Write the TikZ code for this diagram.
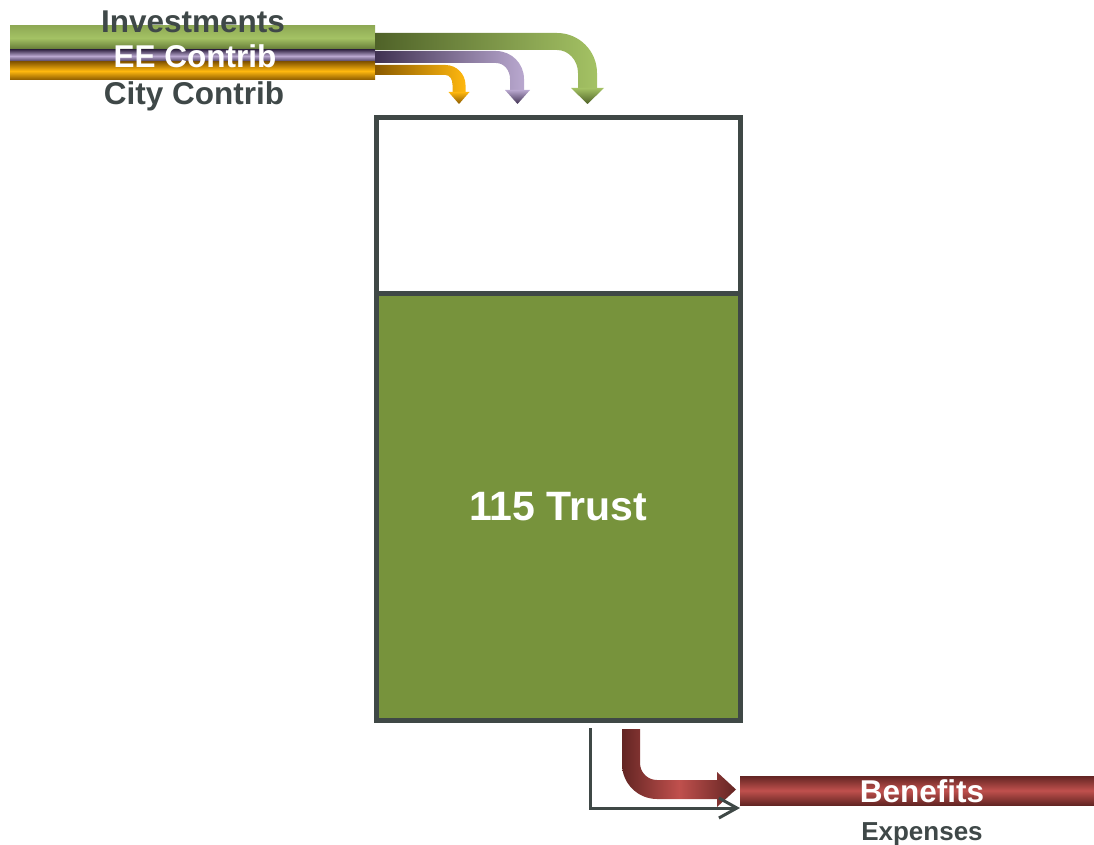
\documentclass[tikz,border=0pt]{standalone}
\usepackage{fontspec}
\setmainfont{Liberation Sans}
\usetikzlibrary{arrows.meta}

\definecolor{txtgray}{HTML}{3F4848}
\definecolor{boxgray}{HTML}{3F4846}
\definecolor{trustgreen}{HTML}{77933C}
\definecolor{gL}{HTML}{A4C264}
\definecolor{gD}{HTML}{4F6228}
\definecolor{pL}{HTML}{B9A8CF}
\definecolor{pD}{HTML}{3F3151}
\definecolor{oL}{HTML}{FFB80F}
\definecolor{oD}{HTML}{8A5A00}
\definecolor{rL}{HTML}{C0504D}
\definecolor{rD}{HTML}{632523}

\begin{document}
\begin{tikzpicture}[x=1pt, y=-1pt,
  bar/.style={rectangle, inner sep=0pt, outer sep=0pt},
  lbl/.style={inner sep=0pt, anchor=base, font=\fontsize{31.5}{31.5}\selectfont\bfseries},
  tank/.style={rectangle, draw=boxgray, line width=5pt, minimum width=364pt, inner sep=0pt},
  arr/.style={-{Straight Barb[length=18pt,width=20pt]}, line width=3pt, draw=boxgray},
]
  \useasboundingbox (0,0) rectangle (1094,845);

  % Inflow pipes
  \node[bar, minimum width=365pt, minimum height=24pt,
        top color=gL!75!gD, bottom color=gD!80!gL, middle color=gL] (invbar) at (192.5,38) {};
  \node[bar, minimum width=365pt, minimum height=12pt,
        top color=pD, bottom color=pD, middle color=pL] (eebar) at (192.5,56) {};
  \node[bar, minimum width=365pt, minimum height=18pt,
        top color=oD, bottom color=oD, middle color=oL] (citybar) at (192.5,71) {};

  \node[lbl, text=txtgray] (invlbl) at (193,33) {Investments};
  \node[lbl, text=white] (eelbl) at (195,68) {EE Contrib};
  \node[lbl, text=txtgray] (citylbl) at (194,105) {City Contrib};

  % Trust tank
  \node[tank, minimum height=175pt] (tank) at (558,205.5) {};
  \node[tank, fill=trustgreen, minimum height=427pt, text=white,
        font=\fontsize{41}{41}\selectfont\bfseries] (trust) at (558,506.5) {115 Trust};

  % Inflow arrows
  \shade[left color=gD, right color=gL]
    (invbar.east |- 0,33) -- (557,33) .. controls (579.1,33) and (597,50.9) .. (597,73)
    -- (597,89) -- (578,89) -- (578,73) .. controls (578,60.3) and (568.6,50) .. (557,50)
    -- (invbar.south east) -- cycle;
  \shade[top color=gL, bottom color=gD] (571,88) -- (604,88) -- (587.5,104) -- cycle;

  \shade[left color=pD, right color=pL]
    (eebar.east |- 0,51) -- (496,51) .. controls (511.5,51) and (524,63.5) .. (524,79)
    -- (524,91) -- (510,91) -- (510,79) .. controls (510,70.2) and (504,63) .. (496,63)
    -- (eebar.east |- 0,63) -- cycle;
  \shade[top color=pL, bottom color=pD] (505,90) -- (530,90) -- (517.5,104) -- cycle;

  \shade[left color=oD, right color=oL]
    (citybar.east |- 0,65) -- (445.5,65) .. controls (456.5,65) and (465.5,74) .. (465.5,85)
    -- (465.5,93) -- (452.5,93) -- (452.5,85) .. controls (452.5,79.5) and (450,75) .. (445.5,75)
    -- (citybar.east |- 0,75) -- cycle;
  \shade[top color=oL, bottom color=oD] (448.5,92) -- (469.5,92) -- (459,104) -- cycle;

  % Outflow
  \node[bar, minimum width=354pt, minimum height=29pt,
        top color=rD, bottom color=rD, middle color=rL] (benbar) at (917,790.5) {};
  \node[lbl, text=white] (benlbl) at (922,802) {Benefits};
  \node[lbl, text=txtgray, font=\fontsize{26}{26}\selectfont\bfseries] (explbl) at (922,840) {Expenses};

  \shade[left color=rD, right color=rD, middle color=rL]
    (622,729) -- (622,764) .. controls (622,783.3) and (637.7,799) .. (657,799)
    -- (717,799) -- (717,807) -- (736,789.5) -- (717,772) -- (717,780)
    -- (657,780) .. controls (647.6,780) and (640,772.4) .. (640,763) -- (640,729) -- cycle;

  \coordinate (tap) at (590,728);
  \draw[arr] (tap) |- ([yshift=-3pt]benbar.south west);
\end{tikzpicture}
\end{document}
